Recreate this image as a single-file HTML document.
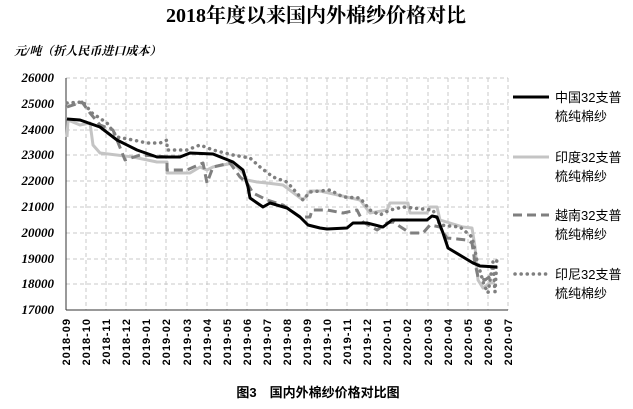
<!DOCTYPE html><html><head><meta charset="utf-8"><style>body{margin:0;background:#fff}svg{display:block}</style></head><body>
<svg width="633" height="409" viewBox="0 0 633 409" xmlns="http://www.w3.org/2000/svg">
<text x="316" y="22" text-anchor="middle" font-family="Liberation Serif,'Noto Serif CJK SC',serif" font-size="20" font-weight="bold">2018年度以来国内外棉纱价格对比</text>
<text x="14" y="55" font-family="Liberation Serif,'Noto Serif CJK SC',serif" font-size="12" font-style="italic" font-weight="bold">元/吨（折人民币进口成本）</text>
<g stroke="#c8c8c8" stroke-dasharray="4,3" stroke-width="1">
<line x1="66" y1="78" x2="508" y2="78"/><line x1="66" y1="104" x2="508" y2="104"/><line x1="66" y1="130" x2="508" y2="130"/><line x1="66" y1="155" x2="508" y2="155"/><line x1="66" y1="181" x2="508" y2="181"/><line x1="66" y1="207" x2="508" y2="207"/><line x1="66" y1="233" x2="508" y2="233"/><line x1="66" y1="259" x2="508" y2="259"/><line x1="66" y1="284" x2="508" y2="284"/>
<line x1="86" y1="78" x2="86" y2="310"/><line x1="106" y1="78" x2="106" y2="310"/><line x1="126" y1="78" x2="126" y2="310"/><line x1="146" y1="78" x2="146" y2="310"/><line x1="166" y1="78" x2="166" y2="310"/><line x1="187" y1="78" x2="187" y2="310"/><line x1="207" y1="78" x2="207" y2="310"/><line x1="227" y1="78" x2="227" y2="310"/><line x1="247" y1="78" x2="247" y2="310"/><line x1="267" y1="78" x2="267" y2="310"/><line x1="287" y1="78" x2="287" y2="310"/><line x1="307" y1="78" x2="307" y2="310"/><line x1="327" y1="78" x2="327" y2="310"/><line x1="347" y1="78" x2="347" y2="310"/><line x1="367" y1="78" x2="367" y2="310"/><line x1="387" y1="78" x2="387" y2="310"/><line x1="407" y1="78" x2="407" y2="310"/><line x1="428" y1="78" x2="428" y2="310"/><line x1="448" y1="78" x2="448" y2="310"/><line x1="468" y1="78" x2="468" y2="310"/><line x1="488" y1="78" x2="488" y2="310"/><line x1="508" y1="78" x2="508" y2="310"/>
</g>
<line x1="66" y1="78" x2="66" y2="310" stroke="#333"/><line x1="66" y1="310" x2="508" y2="310" stroke="#333"/>
<g font-family="Liberation Serif,serif" font-size="13" font-style="italic" font-weight="bold" text-anchor="end">
<text x="54" y="82">26000</text><text x="54" y="108">25000</text><text x="54" y="134">24000</text><text x="54" y="159">23000</text><text x="54" y="185">22000</text><text x="54" y="211">21000</text><text x="54" y="237">20000</text><text x="54" y="263">19000</text><text x="54" y="288">18000</text><text x="54" y="314">17000</text>
</g>
<g font-family="Liberation Sans,sans-serif" font-size="11" font-weight="bold" letter-spacing="1" text-anchor="end">
<text transform="translate(70,318) rotate(-90)">2018-09</text><text transform="translate(90,318) rotate(-90)">2018-10</text><text transform="translate(110,318) rotate(-90)">2018-11</text><text transform="translate(130,318) rotate(-90)">2018-12</text><text transform="translate(150,318) rotate(-90)">2019-01</text><text transform="translate(170,318) rotate(-90)">2019-02</text><text transform="translate(191,318) rotate(-90)">2019-03</text><text transform="translate(211,318) rotate(-90)">2019-04</text><text transform="translate(231,318) rotate(-90)">2019-05</text><text transform="translate(251,318) rotate(-90)">2019-06</text><text transform="translate(271,318) rotate(-90)">2019-07</text><text transform="translate(291,318) rotate(-90)">2019-08</text><text transform="translate(311,318) rotate(-90)">2019-09</text><text transform="translate(331,318) rotate(-90)">2019-10</text><text transform="translate(351,318) rotate(-90)">2019-11</text><text transform="translate(371,318) rotate(-90)">2019-12</text><text transform="translate(391,318) rotate(-90)">2020-01</text><text transform="translate(411,318) rotate(-90)">2020-02</text><text transform="translate(432,318) rotate(-90)">2020-03</text><text transform="translate(452,318) rotate(-90)">2020-04</text><text transform="translate(472,318) rotate(-90)">2020-05</text><text transform="translate(492,318) rotate(-90)">2020-06</text><text transform="translate(512,318) rotate(-90)">2020-07</text>
</g>
<g fill="none" stroke-linejoin="round">
<polyline stroke="#c4c4c4" stroke-width="3" points="67,137 68,120 80,125 90,123 93,145 100,153 133,157 157,162 167,162 167,173 190,173 200,167 207,170 213,167 233,163 243,173 247,180 257,182 267,183 283,185 303,200 310,191 320,191 360,200 370,213 387,210 390,203 408,203 410,213 427,213 430,207 437,207 440,220 463,227 472,228 475,247 478,280 483,288 490,283 495,283"/>
<polyline stroke="#7f7f7f" stroke-width="3" stroke-dasharray="9,5" points="67,107 82,102 90,113 100,125 113,130 125,160 140,155 157,156 167,157 167,170 187,170 203,163 207,183 213,167 230,163 240,177 247,183 253,193 267,200 283,205 300,217 310,217 312,210 327,210 343,213 357,210 363,222 377,230 387,223 393,222 410,233 423,233 430,225 440,227 447,238 467,240 472,243 475,263 478,277 485,280 492,275 495,273"/>
<polyline stroke="#7f7f7f" stroke-width="3.5" stroke-dasharray="0.1,6" stroke-linecap="round" points="67,103 83,102 92,113 107,123 117,137 133,140 147,143 160,143 167,140 167,150 187,150 200,145 213,150 233,155 250,158 260,167 273,177 287,182 303,200 310,192 330,190 343,197 360,198 370,210 380,215 390,210 403,207 433,210 440,225 460,227 472,237 477,260 484,285 488,293 493,262 495,292 497,257"/>
<polyline stroke="#000" stroke-width="3" points="67,119 80,120 100,127 117,140 137,150 157,157 180,157 190,153 213,154 233,162 243,170 248,187 250,198 263,207 270,203 287,208 300,217 308,225 320,228 327,229 347,228 353,223 367,223 383,227 392,220 427,220 432,216 437,217 443,233 448,248 463,257 473,263 480,266 497,267"/>
</g>
<g font-family="Liberation Sans,'Noto Sans CJK SC',sans-serif" font-size="13">
<line x1="513" y1="97" x2="549" y2="97" stroke="#000" stroke-width="3"/><text x="555" y="102">中国32支普</text><text x="555" y="121">梳纯棉纱</text>
<line x1="513" y1="157" x2="549" y2="157" stroke="#c4c4c4" stroke-width="3"/><text x="555" y="162">印度32支普</text><text x="555" y="181">梳纯棉纱</text>
<line x1="513" y1="215" x2="549" y2="215" stroke="#7f7f7f" stroke-width="3" stroke-dasharray="9,5"/><text x="555" y="220">越南32支普</text><text x="555" y="239">梳纯棉纱</text>
<line x1="515" y1="274" x2="549" y2="274" stroke="#7f7f7f" stroke-width="3.5" stroke-dasharray="0.1,6" stroke-linecap="round"/><text x="555" y="279">印尼32支普</text><text x="555" y="298">梳纯棉纱</text>
</g>
<text x="318" y="397" text-anchor="middle" font-family="Liberation Sans,'Noto Sans CJK SC',sans-serif" font-size="13" font-weight="bold">图3　国内外棉纱价格对比图</text>
</svg></body></html>
